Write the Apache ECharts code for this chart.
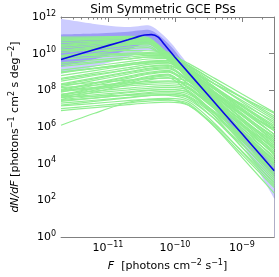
<!DOCTYPE html>
<html><head><meta charset="utf-8">
<script src="https://cdn.jsdelivr.net/npm/echarts@6/dist/echarts.min.js"></script>
<style>html,body{margin:0;padding:0;background:#fff}#c{width:279px;height:277px}</style>
</head><body><div id="c"></div>
<script>
// ---- axes / labels ----
const TITLE = 'Sim Symmetric GCE PSs';
const X_MIN = Math.log10(2e-12), X_MAX = Math.log10(3e-9);   // F range (log10)
const Y_MIN = 0, Y_MAX = 12;                                  // dN/dF range (log10)
const X_MAJOR = [-11, -10, -9];
const X_MINOR = [];
for (let n = -12; n <= -9; n++) for (let k = 2; k <= 9; k++) {
  const v = n + Math.log10(k);
  if (v > X_MIN + 0.01 && v < X_MAX - 0.01) X_MINOR.push(v);
}
// ---- data (log10 values) ----
const logF = [-11.7, -11.2, -10.7, -10.4, -10.1, -9.8, -9.4, -9.0, -8.52];
const outerHi = [11.9, 11.62, 11.45, 11.55, 10.75, 9.4, 7.65, 5.95, 4.0];
const outerLo = [8.9, 9.3, 9.8, 10.2, 9.7, 8.5, 6.9, 5.1, 2.1];
const innerHi = [11.05, 11.1, 11.2, 11.3, 10.55, 9.2, 7.5, 5.8, 3.85];
const innerLo = [9.3, 9.7, 10.2, 10.6, 9.9, 8.7, 7.05, 5.3, 3.3];
const trueLogF = [-11.7, -11.0, -10.7, -10.55, -10.45, -10.35, -10.25, -10.15, -10.0, -9.5, -9.0, -8.52];
const trueVal  = [9.68, 10.44, 10.76, 10.93, 11.02, 11.04, 10.9, 10.47, 9.81, 7.72, 5.63, 3.62];
const greenLines = [
  [10.9, 10.92, 10.94, 10.88, 9.84, 8.73, 7.25, 5.77, 4.0],
  [10.85, 10.87, 10.89, 10.83, 9.89, 8.89, 7.55, 6.21, 4.6],
  [10.8, 10.84, 10.88, 10.83, 9.99, 9.08, 7.87, 6.65, 5.2],
  [10.75, 10.79, 10.83, 10.78, 9.9, 8.95, 7.68, 6.42, 4.9],
  [10.7, 10.76, 10.82, 10.78, 9.8, 8.76, 7.37, 5.97, 4.3],
  [10.6, 10.68, 10.75, 10.73, 9.87, 8.95, 7.71, 6.48, 5.0],
  [10.5, 10.62, 10.73, 10.73, 9.97, 9.14, 8.03, 6.93, 5.6],
  [10.45, 10.57, 10.68, 10.68, 9.69, 8.63, 7.21, 5.8, 4.1],
  [10.4, 10.53, 10.67, 10.68, 9.8, 8.85, 7.58, 6.32, 4.8],
  [10.3, 10.45, 10.61, 10.63, 9.85, 9.01, 7.88, 6.75, 5.4],
  [10.2, 10.37, 10.55, 10.58, 9.67, 8.69, 7.38, 6.07, 4.5],
  [10.15, 10.32, 10.5, 10.53, 9.75, 8.91, 7.78, 6.65, 5.3],
  [10.05, 10.26, 10.47, 10.53, 9.83, 9.07, 8.05, 7.02, 5.8],
  [9.9, 10.13, 10.36, 10.43, 9.64, 8.78, 7.63, 6.48, 5.1],
  [9.75, 10.0, 10.25, 10.33, 9.7, 9.0, 8.06, 7.12, 6.0],
  [10.2, 10.18, 10.17, 10.16, 10.08, 9.29, 8.13, 6.98, 5.6],
  [9.9, 9.96, 10.03, 10.06, 9.99, 9.47, 8.64, 7.8, 6.8],
  [9.85, 9.91, 9.98, 10.01, 9.95, 9.38, 8.48, 7.58, 6.5],
  [9.7, 9.81, 9.92, 9.98, 9.94, 9.32, 8.34, 7.37, 6.2],
  [9.5, 9.66, 9.81, 9.91, 9.89, 9.35, 8.49, 7.63, 6.6],
  [9.4, 9.56, 9.71, 9.81, 9.8, 9.16, 8.17, 7.19, 6.0],
  [9.3, 9.5, 9.71, 9.83, 9.84, 9.18, 8.16, 7.13, 5.9],
  [9.1, 9.33, 9.57, 9.71, 9.74, 9.19, 8.32, 7.45, 6.4],
  [9.0, 9.22, 9.44, 9.57, 9.6, 8.88, 7.8, 6.71, 5.4],
  [9.0, 9.19, 9.38, 9.49, 9.51, 9.06, 8.34, 7.62, 6.75],
  [8.95, 9.2, 9.45, 9.6, 9.64, 8.96, 7.91, 6.86, 5.6],
  [8.8, 9.08, 9.36, 9.53, 9.59, 9.02, 8.11, 7.19, 6.1],
  [8.65, 8.95, 9.24, 9.42, 9.49, 8.78, 7.7, 6.61, 5.3],
  [8.6, 8.87, 9.13, 9.29, 9.35, 8.85, 8.05, 7.26, 6.3],
  [8.5, 8.81, 9.13, 9.31, 9.39, 8.8, 7.86, 6.92, 5.8],
  [8.35, 8.68, 9.01, 9.2, 9.29, 8.56, 7.45, 6.34, 5.0],
  [8.3, 8.63, 8.96, 9.15, 9.24, 8.49, 7.33, 6.18, 4.8],
  [8.2, 8.54, 8.89, 9.09, 9.19, 8.58, 7.62, 6.66, 5.5],
  [8.05, 8.41, 8.77, 8.98, 9.09, 8.34, 7.21, 6.07, 4.7],
  [8.0, 8.36, 8.72, 8.93, 9.04, 8.53, 7.71, 6.89, 5.9],
  [7.9, 8.28, 8.65, 8.88, 8.99, 8.36, 7.37, 6.39, 5.2],
  [7.75, 8.14, 8.53, 8.77, 8.89, 8.13, 6.96, 5.8, 4.4],
  [7.7, 8.09, 8.48, 8.72, 8.84, 8.12, 7.02, 5.92, 4.6],
  [7.6, 8.01, 8.41, 8.66, 8.79, 8.14, 7.13, 6.12, 4.9],
  [7.5, 7.91, 8.31, 8.56, 8.69, 7.93, 6.76, 5.6, 4.2],
  [8.3, 8.43, 8.56, 8.64, 8.67, 8.49, 7.46, 6.11, 4.5],
  [8.15, 8.28, 8.41, 8.49, 8.52, 8.35, 6.98, 5.31, 3.3],
  [8.0, 8.16, 8.32, 8.41, 8.46, 8.29, 7.13, 5.66, 3.9],
  [7.95, 8.09, 8.24, 8.33, 8.36, 8.19, 6.97, 5.44, 3.6],
  [7.8, 7.96, 8.12, 8.21, 8.26, 8.09, 7.09, 5.77, 4.2],
  [7.7, 7.86, 8.02, 8.11, 8.16, 7.99, 6.71, 5.11, 3.2],
  [7.6, 7.76, 7.92, 8.01, 8.06, 7.89, 6.73, 5.26, 3.5],
  [7.5, 7.68, 7.87, 7.98, 8.04, 7.89, 6.54, 4.89, 2.9],
  [7.45, 7.59, 7.74, 7.83, 7.86, 7.69, 6.69, 5.37, 3.8],
  [7.4, 7.58, 7.77, 7.88, 7.94, 7.79, 6.82, 5.54, 4.0],
  [7.3, 7.46, 7.62, 7.71, 7.76, 7.59, 6.4, 4.9, 3.1],
  [7.65, 7.69, 7.73, 7.75, 7.73, 7.49, 6.42, 5.05, 3.4],
  [7.2, 7.4, 7.59, 7.71, 7.78, 7.64, 6.59, 5.23, 3.6],
  [7.15, 7.29, 7.44, 7.53, 7.56, 7.39, 6.17, 4.64, 2.8],
  [7.0, 7.16, 7.32, 7.41, 7.46, 7.29, 5.97, 4.35, 2.4],
  [6.9, 7.06, 7.22, 7.31, 7.36, 7.19, 6.09, 4.69, 3.0],
  [6.1, 6.75, 7.35, 7.5, 7.5, 7.2, 6.0, 4.5, 2.7]
];
// ---- styles ----
const FONT = 'DejaVu Sans';
const AX = '#808080';
const GREEN = '#90ee90', LIGHT = '#ccccff', MED = '#9d9df5', TRUE_C = '#0a0ae6';
const S = 0.25;

const xy = (xs, vs) => xs.map((x, i) => [x, vs[i]]);
const supRich = {
  b: {fontFamily: FONT, fontSize: 11, color: '#000', lineHeight: 15},
  s: {fontFamily: FONT, fontSize: 8, color: '#000', lineHeight: 9, verticalAlign: 'top'},
  i: {fontFamily: FONT, fontSize: 11, color: '#000', fontStyle: 'italic', lineHeight: 15}
};
const base = {type: 'line', symbol: 'none', silent: true, smooth: S, animation: false};
const area = (vals, color) => Object.assign({}, base, {data: xy(logF, vals),
  lineStyle: {width: 0, opacity: 0}, areaStyle: {color: color, opacity: 1, origin: 'start'}});
// bands: outer hi (light) -> inner hi (medium) -> inner lo (light) -> outer lo (white)
const series = [area(outerHi, LIGHT), area(innerHi, MED), area(innerLo, LIGHT), area(outerLo, '#ffffff')];
greenLines.forEach(g => series.push(Object.assign({}, base, {data: xy(logF, g), lineStyle: {color: GREEN, width: 1.2}})));
series.push(Object.assign({}, base, {data: xy(trueLogF, trueVal), lineStyle: {color: TRUE_C, width: 1.6}}));

const xAxisCommon = {type: 'value', min: X_MIN, max: X_MAX, splitLine: {show: false}};
const chart = echarts.init(document.getElementById('c'), null, {renderer: 'canvas'});
chart.setOption({
  animation: false,
  grid: {left: 52, right: 5, top: 17, bottom: 38},
  graphic: [{type: 'text', x: 163, y: 10, style: {text: TITLE, font: '12px "DejaVu Sans"', fill: '#000',
    textAlign: 'center', textVerticalAlign: 'middle'}}],
  xAxis: [
    Object.assign({}, xAxisCommon, {position: 'bottom',
      axisLine: {show: true, lineStyle: {color: AX, width: 1}},
      axisTick: {show: true, inside: true, length: 5, lineStyle: {color: AX}, customValues: X_MAJOR},
      axisLabel: {show: true, customValues: X_MAJOR, margin: 4, formatter: v => '{b|10}{s|\u2212' + Math.abs(Math.round(v)) + '}', rich: supRich},
      name: '{i|F}{b|  [photons cm}{s|\u22122}{b| s}{s|\u22121}{b|]}', nameLocation: 'middle', nameGap: 19,
      nameTextStyle: {rich: supRich}}),
    Object.assign({}, xAxisCommon, {position: 'bottom', axisLine: {show: false},
      axisTick: {show: true, inside: true, length: 2.5, lineStyle: {color: AX}, customValues: X_MINOR},
      axisLabel: {show: false}}),
    Object.assign({}, xAxisCommon, {position: 'top',
      axisLine: {show: true, lineStyle: {color: AX, width: 1}},
      axisTick: {show: true, inside: true, length: 5, lineStyle: {color: AX}, customValues: X_MAJOR},
      axisLabel: {show: false}}),
    Object.assign({}, xAxisCommon, {position: 'top', axisLine: {show: false},
      axisTick: {show: true, inside: true, length: 2.5, lineStyle: {color: AX}, customValues: X_MINOR},
      axisLabel: {show: false}})
  ],
  yAxis: [
    {type: 'value', min: Y_MIN, max: Y_MAX, interval: 2, position: 'left', splitLine: {show: false},
      axisLine: {show: true, lineStyle: {color: AX, width: 1}},
      axisTick: {show: true, inside: true, length: 5, lineStyle: {color: AX}},
      axisLabel: {margin: 5, formatter: v => '{b|10}{s|' + v + '}', rich: supRich},
      name: '{i|dN/dF}{b| [photons}{s|\u22121}{b| cm}{s|2}{b| s deg}{s|\u22122}{b|]}', nameLocation: 'middle', nameGap: 34,
      nameTextStyle: {rich: supRich}},
    {type: 'value', min: Y_MIN, max: Y_MAX, interval: 2, position: 'right', splitLine: {show: false},
      axisLine: {show: true, lineStyle: {color: AX, width: 1}},
      axisTick: {show: true, inside: true, length: 5, lineStyle: {color: AX}},
      axisLabel: {show: false}}
  ],
  series: series
});
</script></body></html>
